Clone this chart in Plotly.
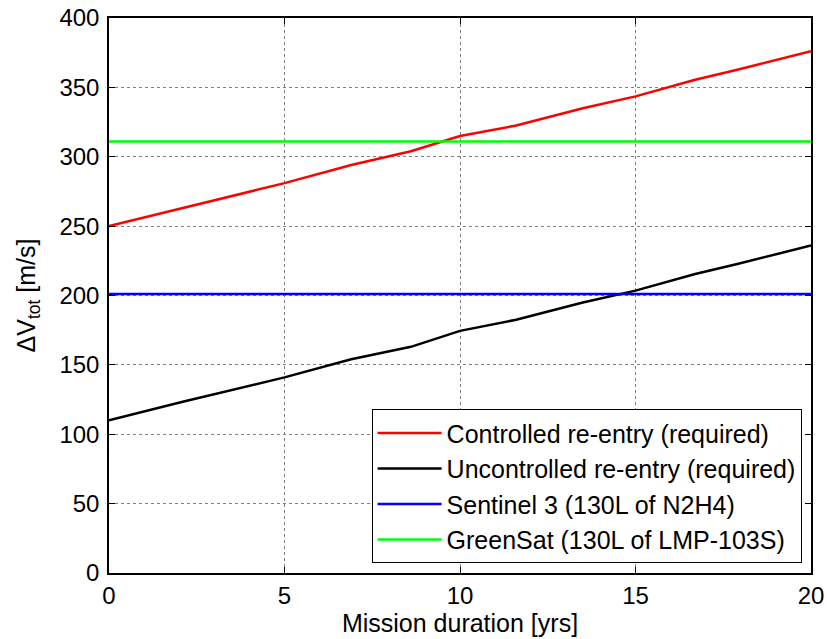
import plotly.graph_objects as go

years = [0, 2.1, 5, 6.9, 8.6, 10, 11.6, 13.5, 15, 16.7, 17.9, 20]
controlled = [250, 263, 281, 294, 304, 315, 322.5, 335, 343.5, 355.5, 362.7, 376]
uncontrolled = [110, 123.4, 141, 154, 163, 174.5, 182.5, 195, 203.5, 215.5, 222.7, 236]
sentinel_x = [0, 20]
sentinel = [201, 201]
greensat_x = [0, 20]
greensat = [311, 311]

FONT = "Liberation Sans, Arial, sans-serif"

fig = go.Figure()
fig.add_trace(go.Scatter(x=years, y=controlled, mode="lines",
                         name="Controlled re-entry (required)",
                         line=dict(color="#ff0000", width=2.5)))
fig.add_trace(go.Scatter(x=years, y=uncontrolled, mode="lines",
                         name="Uncontrolled re-entry (required)",
                         line=dict(color="#000000", width=2.5)))
fig.add_trace(go.Scatter(x=sentinel_x, y=sentinel, mode="lines",
                         name="Sentinel 3 (130L of N2H4)",
                         line=dict(color="#0000ff", width=2.5)))
fig.add_trace(go.Scatter(x=greensat_x, y=greensat, mode="lines",
                         name="GreenSat (130L of LMP-103S)",
                         line=dict(color="#00ff00", width=2.5)))

axis_common = dict(
    showline=True, linecolor="black", linewidth=1.5, mirror="ticks",
    ticks="inside", ticklen=6, tickcolor="black", tickwidth=1,
    showgrid=True, gridcolor="#808080", griddash="dot", gridwidth=1,
    zeroline=False, automargin=False,
    tickfont=dict(family=FONT, size=24, color="black"),
)

fig.update_layout(
    width=827, height=639,
    margin=dict(l=109, r=16, t=18, b=66),
    paper_bgcolor="white", plot_bgcolor="white",
    font=dict(family=FONT, color="black"),
    xaxis=dict(range=[0, 20], tickvals=[0, 5, 10, 15, 20],
               title=dict(text="Mission duration [yrs]", font=dict(family=FONT, size=25), standoff=2),
               **axis_common),
    yaxis=dict(range=[0, 400], tickvals=[0, 50, 100, 150, 200, 250, 300, 350, 400],
               ticklabelstandoff=3,
               title=dict(text="ΔV<sub>tot</sub> [m/s]", font=dict(family=FONT, size=25), standoff=17),
               **axis_common),
    legend=dict(x=0.9866, y=0.0177, xanchor="right", yanchor="bottom",
                bgcolor="white", bordercolor="black", borderwidth=1,
                font=dict(family=FONT, size=25, color="black"),
                itemwidth=64, tracegroupgap=0),
    showlegend=True,
)

fig.write_html("out.html",
               config={"displayModeBar": False},
               post_script="document.body.style.margin='0';document.body.style.padding='0';")
